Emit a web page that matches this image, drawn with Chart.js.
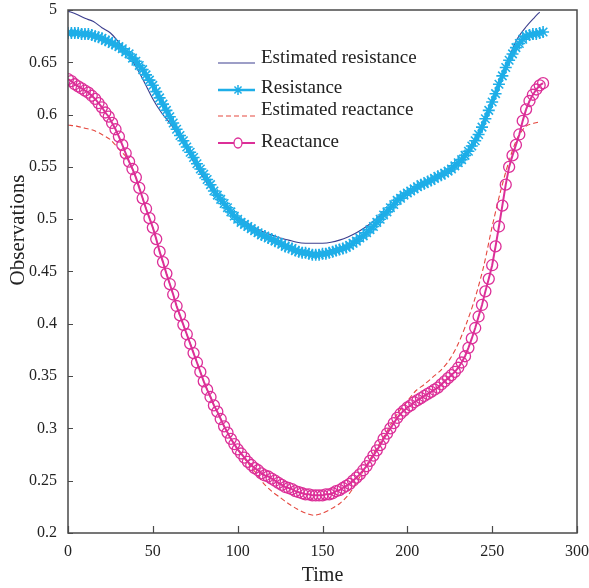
<!DOCTYPE html>
<html>
<head>
<meta charset="utf-8">
<script src="https://cdn.jsdelivr.net/npm/chart.js@4.4.0/dist/chart.umd.min.js"></script>
<style>
  html, body { margin: 0; padding: 0; background: #fff; }
  #chart { display: block; }
</style>
</head>
<body>
<canvas id="chart" width="589" height="588"></canvas>
<script>
// Data

// measured series, one value every 2 time units
const time = Array.from({ length: 141 }, (_, i) => i * 2);

const resistance = [
    .678, .678, .678, .678, .677, .677, .677, .676, .675, .674,
    .673, .671, .670, .668, .667, .665, .663, .660, .658, .654,
    .651, .647, .643, .638, .633, .628, .622, .616, .610, .604,
    .598, .592, .586, .580, .575, .569, .564, .559, .553, .548,
    .543, .538, .533, .527, .523, .519, .515, .511, .507, .503,
    .500, .497, .495, .493, .491, .489, .487, .485, .484, .482,
    .481, .479, .478, .476, .474, .473, .472, .470, .469, .468,
    .468, .467, .466, .466, .466, .467, .467, .468, .469, .470,
    .471, .472, .473, .475, .477, .479, .482, .484, .487, .490,
    .493, .497, .500, .504, .507, .511, .514, .518, .520, .523,
    .525, .527, .529, .531, .533, .534, .536, .537, .539, .541,
    .542, .544, .546, .548, .551, .554, .557, .561, .565, .570,
    .575, .581, .588, .596, .604, .612, .620, .629, .637, .645,
    .652, .658, .664, .668, .672, .675, .676, .677, .677, .678,
    .679
];

const reactance = [
    .634, .632, .629, .627, .625, .623, .621, .618, .615, .611,
    .607, .602, .598, .592, .586, .579, .571, .563, .555, .548,
    .540, .530, .520, .510, .501, .492, .481, .469, .459, .448,
    .438, .428, .417, .408, .399, .390, .381, .372, .363, .354,
    .345, .337, .330, .322, .316, .309, .302, .296, .290, .285,
    .280, .276, .272, .268, .265, .262, .260, .257, .255, .254,
    .252, .250, .248, .246, .244, .243, .242, .240, .239, .238,
    .237, .237, .236, .236, .236, .236, .237, .237, .238, .240,
    .241, .243, .245, .247, .250, .253, .256, .260, .264, .269,
    .274, .279, .284, .290, .295, .300, .305, .310, .314, .317,
    .320, .322, .325, .327, .329, .331, .333, .335, .337, .339,
    .342, .345, .348, .351, .354, .358, .363, .369, .377, .386,
    .396, .407, .418, .431, .443, .456, .474, .493, .513, .533,
    .550, .561, .571, .581, .594, .605, .613, .619, .624, .628,
    .630
];

// estimated series, one value every 5 time units
const estTime = [
    0, 5, 10, 15, 20, 25, 30, 35, 40, 45,
    50, 55, 60, 65, 70, 75, 80, 85, 90, 95,
    100, 105, 110, 115, 120, 125, 130, 135, 140, 145,
    150, 155, 160, 165, 170, 175, 180, 185, 190, 195,
    200, 205, 210, 215, 220, 225, 230, 235, 240, 245,
    250, 255, 260, 265, 270, 275, 278
];

const estResistance = [
    .699, .696, .692, .689, .683, .678, .669, .659, .646, .631,
    .615, .602, .592, .580, .567, .552, .539, .527, .518, .509,
    .502, .497, .492, .488, .485, .482, .480, .478, .477, .477,
    .477, .478, .480, .483, .487, .492, .498, .505, .512, .519,
    .525, .530, .534, .538, .542, .547, .554, .563, .575, .592,
    .612, .633, .655, .673, .684, .693, .698
];

const estReactance = [
    .590, .589, .587, .585, .581, .576, .567, .558, .540, .515,
    .492, .464, .438, .412, .390, .368, .345, .326, .309, .293,
    .280, .269, .259, .248, .240, .234, .228, .223, .219, .217,
    .219, .223, .228, .236, .248, .262, .276, .289, .303, .316,
    .326, .336, .342, .349, .356, .366, .381, .401, .425, .455,
    .493, .527, .556, .578, .589, .592, .593
];

const xTicks = [0, 50, 100, 150, 200, 250, 300];
const yTicks = [0.2, 0.25, 0.3, 0.35, 0.4, 0.45, 0.5, 0.55, 0.6, 0.65, 0.7];
const yTickText = ['0.2', '0.25', '0.3', '0.35', '0.4', '0.45', '0.5', '0.55', '0.6', '0.65', '5'];

const legendItems = ['Estimated resistance', 'Resistance', 'Estimated reactance', 'Reactance'];

// Colours

const navy = '#3c3f8f';
const cyan = '#1eaee8';
const red = '#e5483f';
const magenta = '#dc2f98';
const serif = '"Liberation Serif", "DejaVu Serif", serif';

function pairs(xs, ys) {
    return xs.map((x, i) => ({ x: x, y: ys[i] }));
}

// Frame, inward ticks, y title and legend

const decor = {
    id: 'decor',
    afterDraw(chart) {
        const ctx = chart.ctx;
        const a = chart.chartArea;
        const xs = chart.scales.x;
        const ys = chart.scales.y;

        ctx.save();
        ctx.strokeStyle = '#4a4a4a';
        ctx.lineWidth = 1.5;
        ctx.strokeRect(a.left, a.top, a.right - a.left, a.bottom - a.top);

        ctx.lineWidth = 1.2;
        ctx.beginPath();
        xTicks.forEach(v => {
            const px = Math.round(xs.getPixelForValue(v)) + 0.5;
            ctx.moveTo(px, a.bottom);
            ctx.lineTo(px, a.bottom - 7);
        });
        yTicks.forEach(v => {
            const py = Math.round(ys.getPixelForValue(v)) + 0.5;
            ctx.moveTo(a.left, py);
            ctx.lineTo(a.left + 5, py);
        });
        ctx.stroke();

        // y title
        ctx.fillStyle = '#222';
        ctx.font = '21px ' + serif;
        ctx.textAlign = 'center';
        ctx.textBaseline = 'middle';
        ctx.translate(18, 230);
        ctx.rotate(-Math.PI / 2);
        ctx.fillText('Observations', 0, 0);
        ctx.restore();

        // legend
        ctx.save();
        const lineY = [63, 90, 116, 143];
        const textY = [58, 88, 110, 142];
        const x0 = 218, x1 = 255, mx = 238;

        ctx.lineWidth = 1.2;
        ctx.strokeStyle = navy;
        ctx.beginPath(); ctx.moveTo(x0, lineY[0]); ctx.lineTo(x1, lineY[0]); ctx.stroke();

        ctx.lineWidth = 2.5;
        ctx.strokeStyle = cyan;
        ctx.beginPath(); ctx.moveTo(x0, lineY[1]); ctx.lineTo(x1, lineY[1]); ctx.stroke();
        ctx.lineWidth = 1.5;
        ctx.beginPath();
        for (let k = 0; k < 4; k++) {
            const ang = k * Math.PI / 4;
            ctx.moveTo(mx - 5 * Math.cos(ang), lineY[1] - 5 * Math.sin(ang));
            ctx.lineTo(mx + 5 * Math.cos(ang), lineY[1] + 5 * Math.sin(ang));
        }
        ctx.stroke();

        ctx.lineWidth = 1.2;
        ctx.strokeStyle = red;
        ctx.setLineDash([5, 3]);
        ctx.beginPath(); ctx.moveTo(x0, lineY[2]); ctx.lineTo(x1, lineY[2]); ctx.stroke();
        ctx.setLineDash([]);

        ctx.lineWidth = 2;
        ctx.strokeStyle = magenta;
        ctx.beginPath(); ctx.moveTo(x0, lineY[3]); ctx.lineTo(x1, lineY[3]); ctx.stroke();
        ctx.fillStyle = '#fff';
        ctx.lineWidth = 1.3;
        ctx.beginPath(); ctx.ellipse(mx, lineY[3], 4, 5, 0, 0, Math.PI * 2); ctx.fill(); ctx.stroke();

        ctx.fillStyle = '#222';
        ctx.font = '19px ' + serif;
        ctx.textAlign = 'left';
        ctx.textBaseline = 'middle';
        legendItems.forEach((t, i) => ctx.fillText(t, 261, textY[i]));
        ctx.restore();
    }
};

// Chart

const ctx = document.getElementById('chart').getContext('2d');

new Chart(ctx, {
    type: 'line',
    data: {
        datasets: [
            {
                label: legendItems[0],
                data: pairs(estTime, estResistance),
                borderColor: navy,
                borderWidth: 1.1,
                pointRadius: 0,
                tension: 0.3,
                order: 4
            },
            {
                label: legendItems[1],
                data: pairs(time, resistance),
                borderColor: cyan,
                backgroundColor: cyan,
                borderWidth: 4,
                pointStyle: 'star',
                pointRadius: 6,
                pointBorderWidth: 1.6,
                pointBorderColor: cyan,
                order: 3
            },
            {
                label: legendItems[2],
                data: pairs(estTime, estReactance),
                borderColor: red,
                borderWidth: 1.1,
                borderDash: [5, 3],
                pointRadius: 0,
                tension: 0.3,
                order: 2
            },
            {
                label: legendItems[3],
                data: pairs(time, reactance),
                borderColor: magenta,
                borderWidth: 2,
                pointStyle: 'circle',
                pointRadius: 5.5,
                pointBorderWidth: 1.3,
                pointBorderColor: magenta,
                pointBackgroundColor: 'rgba(255,255,255,0)',
                order: 1
            }
        ]
    },
    options: {
        responsive: false,
        animation: false,
        layout: { padding: { top: 10, right: 12, left: 0, bottom: 0 } },
        plugins: {
            legend: { display: false },
            tooltip: { enabled: false }
        },
        scales: {
            x: {
                type: 'linear',
                min: 0,
                max: 300,
                afterFit(scale) {
                    scale.height = 55;
                    scale.paddingLeft = 0;
                    scale.paddingRight = 0;
                },
                afterBuildTicks(scale) { scale.ticks = xTicks.map(v => ({ value: v })); },
                grid: { display: false, drawTicks: false },
                border: { display: false },
                ticks: {
                    padding: 9,
                    color: '#222',
                    font: { family: serif, size: 16 },
                    callback: v => String(v)
                },
                title: {
                    display: true,
                    text: 'Time',
                    color: '#222',
                    font: { family: serif, size: 20 },
                    padding: { top: 0, bottom: 0 }
                }
            },
            y: {
                min: 0.2,
                max: 0.7,
                afterFit(scale) {
                    scale.width = 68;
                    scale.paddingTop = 0;
                    scale.paddingBottom = 0;
                },
                afterBuildTicks(scale) { scale.ticks = yTicks.map(v => ({ value: v })); },
                grid: { display: false, drawTicks: false },
                border: { display: false },
                ticks: {
                    padding: 11,
                    color: '#222',
                    font: { family: serif, size: 16 },
                    callback: (v, i) => yTickText[i]
                }
            }
        }
    },
    plugins: [decor]
});
</script>
</body>
</html>
